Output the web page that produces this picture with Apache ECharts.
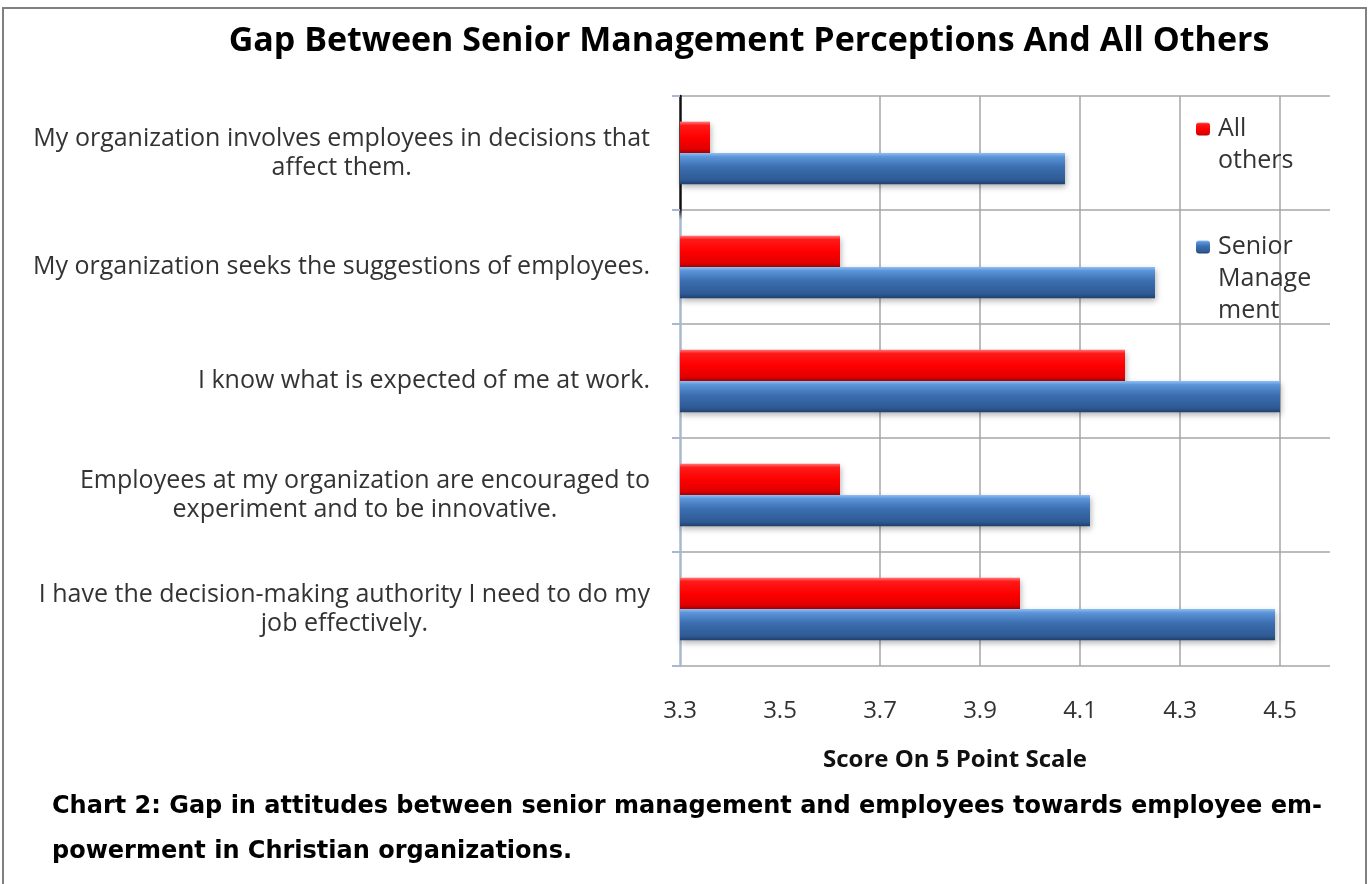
<!DOCTYPE html>
<html>
<head>
<meta charset="utf-8">
<script src="https://cdn.jsdelivr.net/npm/echarts@6/dist/echarts.min.js"></script>
<style>
html,body{margin:0;padding:0;background:#fff;}
#chart{width:1370px;height:884px;}
</style>
</head>
<body>
<div id="chart"></div>
<script>
// ---- data ----
const categories = [
  'My organization involves employees in decisions that\naffect them.',
  'My organization seeks the suggestions of employees.',
  'I know what is expected of me at work.',
  'Employees at my organization are encouraged to\nexperiment and to be innovative.',
  'I have the decision-making authority I need to do my\njob effectively.'
];
const allOthers = [3.36, 3.62, 4.19, 3.62, 3.98];
const seniorManagement = [4.07, 4.25, 4.50, 4.12, 4.49];
const seriesNames = ['All others', 'Senior Management'];
const legendLabels = ['All\nothers', 'Senior\nManage\nment'];
const titleText = 'Gap Between Senior Management Perceptions And All Others';
const axisTitle = 'Score On 5 Point Scale';
const captionText = 'Chart 2: Gap in attitudes between senior management and employees towards employee em-\npowerment in Christian organizations.';
const xMin = 3.3, xMax = 4.6, xStep = 0.1;

const chart = echarts.init(document.getElementById('chart'), null, {renderer: 'canvas'});
const G = echarts.graphic;
const redFill = new G.LinearGradient(0, 0, 0, 1, [
  {offset: 0, color: '#ff7a7a'}, {offset: 0.12, color: '#ff1a1a'},
  {offset: 0.5, color: '#ff0000'}, {offset: 0.88, color: '#e00000'}, {offset: 1, color: '#a80000'}
]);
const blueFill = new G.LinearGradient(0, 0, 0, 1, [
  {offset: 0, color: '#8fc0f5'}, {offset: 0.12, color: '#5b95d8'},
  {offset: 0.45, color: '#3b6eb0'}, {offset: 0.85, color: '#2f5b95'}, {offset: 1, color: '#1f3f6b'}
]);
const grey = '#a6a6a6';
const gridColors = [];
for (let v = xMin + xStep; v < xMax - 1e-6; v += xStep) {
  const k = Math.round(v * 10);
  gridColors.push((k % 2 === 1 && k >= 37) ? grey : 'rgba(0,0,0,0)');
}
const legendFont = {fontFamily: 'Open Sans', fontSize: 25, lineHeight: 32, color: '#333', padding: [0, 0, 0, 3]};

const option = {
  animation: false,
  backgroundColor: '#fff',
  grid: {left: 680, right: 40, top: 96, bottom: 218, containLabel: false},
  legend: [
    {data: [seriesNames[0]], left: 1196, top: 81, padding: 0, itemWidth: 14, itemHeight: 13, selectedMode: false,
     formatter: () => '\n' + legendLabels[0], textStyle: legendFont},
    {data: [seriesNames[1]], left: 1196, top: 167, padding: 0, itemWidth: 14, itemHeight: 13, selectedMode: false,
     formatter: () => '\n\n' + legendLabels[1], textStyle: legendFont}
  ],
  xAxis: {
    type: 'value', min: xMin, max: xMax, interval: xStep,
    axisLine: {show: false}, axisTick: {show: false},
    axisLabel: {
      margin: 33, fontFamily: 'Open Sans', fontSize: 24, color: '#333', showMaxLabel: false,
      formatter: v => (Math.round(v * 10) % 2 === 1 && v < xMax - 1e-6) ? v.toFixed(1) : ''
    },
    splitLine: {show: true, showMinLine: false, showMaxLine: false, lineStyle: {color: gridColors, width: 1.5}},
    name: axisTitle, nameLocation: 'middle', nameGap: 82,
    nameTextStyle: {fontFamily: 'Open Sans', fontWeight: 'bold', fontSize: 24, color: '#111', padding: [0, 100, 0, 0]}
  },
  yAxis: {
    type: 'category', inverse: true, data: categories,
    axisLine: {show: true, lineStyle: {color: new G.LinearGradient(0, 0, 0, 1, [
      {offset: 0, color: '#111'}, {offset: 0.2, color: '#111'}, {offset: 0.22, color: '#a9b8cf'}, {offset: 1, color: '#a9b8cf'}
    ]), width: 2.5}},
    axisTick: {show: true, length: 8, lineStyle: {color: '#a9b8cf', width: 2}},
    splitLine: {show: true, lineStyle: {color: grey, width: 1.5}},
    axisLabel: {
      margin: 30, align: 'right',
      formatter: v => v.split('\n').map(s => '{c|' + s + '}').join('\n'),
      rich: {c: {align: 'center', fontFamily: 'Open Sans', fontSize: 25, lineHeight: 29, color: '#333'}}
    }
  },
  series: [
    {name: seriesNames[0], type: 'bar', data: allOthers, barGap: '0%', barCategoryGap: '45%',
     itemStyle: {color: redFill, shadowBlur: 6, shadowColor: 'rgba(0,0,0,0.3)', shadowOffsetY: 3, shadowOffsetX: 1}},
    {name: seriesNames[1], type: 'bar', data: seniorManagement, barGap: '0%', barCategoryGap: '45%',
     itemStyle: {color: blueFill, shadowBlur: 6, shadowColor: 'rgba(0,0,0,0.3)', shadowOffsetY: 3, shadowOffsetX: 1}}
  ],
  graphic: [
    {type: 'rect', shape: {x: 3, y: 8, width: 1363, height: 890}, style: {fill: 'none', stroke: '#808080', lineWidth: 2}, silent: true},
    {type: 'text', x: 749, y: 41, style: {text: titleText, fontFamily: 'Open Sans', fontWeight: 'bold', fontSize: 34,
      fill: '#000', align: 'center', verticalAlign: 'middle'}},
    {type: 'text', x: 52, y: 784, style: {text: captionText, fontFamily: 'DejaVu Sans', fontWeight: 'bold', fontSize: 24,
      lineHeight: 45, fill: '#000', align: 'left', verticalAlign: 'top'}}
  ]
};
chart.setOption(option);
</script>
</body>
</html>
